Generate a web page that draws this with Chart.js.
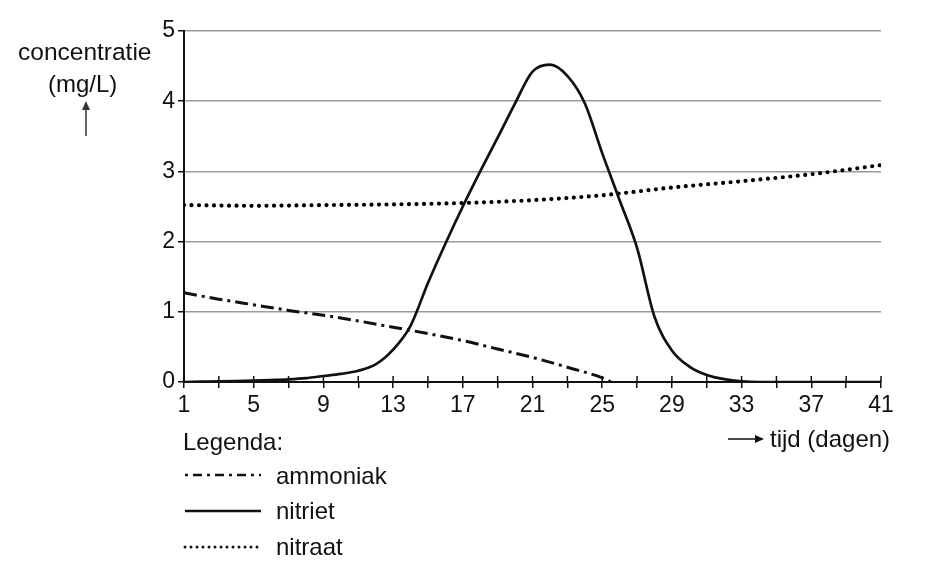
<!DOCTYPE html>
<html>
<head>
<meta charset="utf-8">
<script src="https://cdn.jsdelivr.net/npm/chart.js@4"></script>
<style>
  html, body { margin: 0; padding: 0; background: #fff; }
  #wrap { position: relative; width: 948px; height: 565px; font-family: "Liberation Sans", Arial, sans-serif; color: #111; }
  #wrap canvas { position: absolute; left: 0; top: 0; }
  .txt { position: absolute; font-size: 24px; white-space: nowrap; line-height: 1; }
  svg { position: absolute; left: 0; top: 0; }
</style>
</head>
<body>
<div id="wrap">
  <canvas id="chart" width="948" height="565"></canvas>
  <div class="txt" style="left:18px; top:40px; font-size:24.5px;">concentratie</div>
  <div class="txt" style="left:48px; top:72px;">(mg/L)</div>
  <div class="txt" style="left:770px; top:427px;">tijd (dagen)</div>
  <div class="txt" style="left:183px; top:430px;">Legenda:</div>
  <div class="txt" style="left:276px; top:464px;">ammoniak</div>
  <div class="txt" style="left:276px; top:499px;">nitriet</div>
  <div class="txt" style="left:276px; top:535px;">nitraat</div>
  <svg width="948" height="565">
    <line x1="86" y1="136" x2="86" y2="108" stroke="#333" stroke-width="1.5"/>
    <polygon points="86,101 82,110 90,110" fill="#333"/>
    <line x1="728" y1="439" x2="756" y2="439" stroke="#111" stroke-width="1.5"/>
    <polygon points="764,439 755,435 755,443" fill="#111"/>
    <line x1="185" y1="475" x2="261" y2="475" stroke="#111" stroke-width="2.5" stroke-dasharray="3,5,9,5"/>
    <line x1="185" y1="511" x2="261" y2="511" stroke="#111" stroke-width="2.5"/>
    <line x1="185" y1="547" x2="261" y2="547" stroke="#111" stroke-width="3" stroke-dasharray="0,6" stroke-linecap="round"/>
  </svg>
</div>
<script>
const days = [1,2,3,4,5,6,7,8,9,10,11,12,13,14,15,16,17,18,19,20,21,22,23,24,25,26,27,28,29,30,31,32,33,34,35,36,37,38,39,40,41];
const nitriet = [0,0.004,0.008,0.013,0.02,0.028,0.038,0.055,0.085,0.115,0.16,0.25,0.46,0.8,1.41,1.97,2.5,3.0,3.48,3.97,4.42,4.52,4.36,3.97,3.26,2.59,1.91,0.93,0.45,0.22,0.1,0.04,0.01,0,0,0,0,0,0,0,0];
const ammoniakDays = [1,3,5,7,9,11,13,15,17,19,21,23,25,25.5];
const ammoniak = [1.27,1.18,1.1,1.02,0.95,0.87,0.78,0.69,0.59,0.47,0.35,0.21,0.06,0];
const nitraatDays = [1,5,9,13,17,21,25,29,33,37,41];
const nitraat = [2.52,2.51,2.52,2.53,2.55,2.59,2.66,2.77,2.86,2.96,3.09];
const xTicks = [1,3,5,7,9,11,13,15,17,19,21,23,25,27,29,31,33,35,37,39,41];
const xLabels = [1,5,9,13,17,21,25,29,33,37,41];
const yTicks = [0,1,2,3,4,5];

const pts = (xs, ys) => xs.map((x, i) => ({ x: x, y: ys[i] }));

// tick marks above the x axis (reference has them crossing the axis)
const crossTicks = {
  id: 'crossTicks',
  afterDraw(chart) {
    const c = chart.ctx, xs = chart.scales.x, y0 = chart.scales.y.getPixelForValue(0);
    c.save();
    c.strokeStyle = '#111';
    c.lineWidth = 1.5;
    xs.ticks.forEach(t => {
      const px = xs.getPixelForValue(t.value);
      c.beginPath(); c.moveTo(px, y0); c.lineTo(px, y0 - 6); c.stroke();
    });
    c.restore();
  }
};

const font = { family: '"Liberation Sans", Arial, sans-serif', size: 23 };

new Chart(document.getElementById('chart'), {
  type: 'line',
  data: {
    datasets: [
      { label: 'ammoniak', data: pts(ammoniakDays, ammoniak), borderColor: '#111', borderWidth: 3,
        borderDash: [13, 5, 3, 5], pointRadius: 0, cubicInterpolationMode: 'monotone' },
      { label: 'nitriet', data: pts(days, nitriet), borderColor: '#111', borderWidth: 2.7,
        pointRadius: 0, cubicInterpolationMode: 'monotone' },
      { label: 'nitraat', data: pts(nitraatDays, nitraat), borderColor: '#000', borderWidth: 4.2,
        borderDash: [0, 7.5], borderCapStyle: 'round', pointRadius: 0, cubicInterpolationMode: 'monotone' }
    ]
  },
  options: {
    responsive: false,
    animation: false,
    events: [],
    layout: { padding: { left: 144, right: 67, top: 31, bottom: 133 } },
    plugins: { legend: { display: false }, tooltip: { enabled: false } },
    scales: {
      x: {
        type: 'linear', min: 1, max: 41,
        afterBuildTicks: s => { s.ticks = xTicks.map(v => ({ value: v })); },
        afterFit: s => { s.height = 50; },
        ticks: { color: '#111', font: font, padding: 4, maxRotation: 0, autoSkip: false,
          callback: v => xLabels.includes(v) ? String(v) : '' },
        grid: { drawOnChartArea: false, drawTicks: true, tickLength: 6, color: '#111', lineWidth: 1.5 },
        border: { color: '#111', width: 2 }
      },
      y: {
        min: 0, max: 5,
        afterBuildTicks: s => { s.ticks = yTicks.map(v => ({ value: v })); },
        afterFit: s => { s.width = 40; },
        ticks: { color: '#111', font: font, padding: 3 },
        grid: { color: ctx => ctx.tick && ctx.tick.value === 0 ? 'rgba(0,0,0,0)' : '#999', lineWidth: 1.5,
          tickLength: 6, tickColor: '#111' },
        border: { color: '#111', width: 2 }
      }
    }
  },
  plugins: [crossTicks]
});
</script>
</body>
</html>
